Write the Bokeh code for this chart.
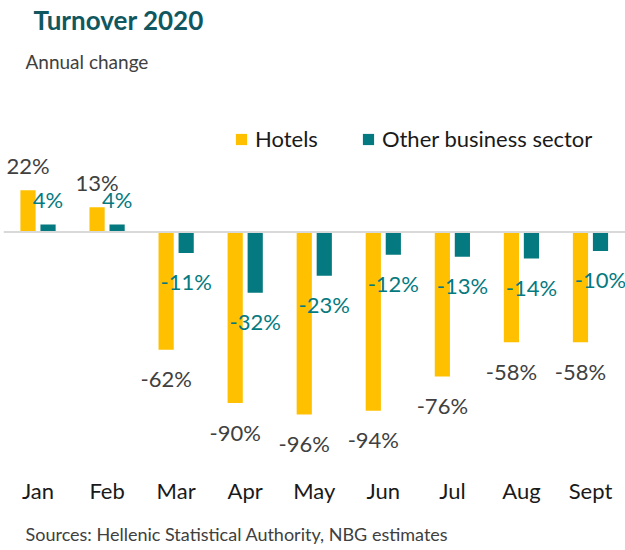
from bokeh.plotting import figure
from bokeh.models import (ColumnDataSource, Range1d, FixedTicker, Span, Label,
                          Legend, LegendItem, Title)
from bokeh.core.properties import value
from bokeh.embed import file_html
from bokeh.resources import INLINE

months = ["Jan", "Feb", "Mar", "Apr", "May", "Jun", "Jul", "Aug", "Sept"]
hotels = [22, 13, -62, -90, -96, -94, -76, -58, -58]
other = [4, 4, -11, -32, -23, -12, -13, -14, -10]

FONT = "Lato"
GOLD = "#FFC000"
TEAL = "#047A80"
DARK = "#404040"

idx = list(range(len(months)))
off = 0.145
bw = 0.22

src_h = ColumnDataSource(dict(
    x=[i - off for i in idx], v=hotels,
    lab=[f"{v}%" for v in hotels],
    yo=[-25 if v >= 0 else 29 for v in hotels]))
src_o = ColumnDataSource(dict(
    x=[i + off for i in idx], v=other,
    lab=[f"{v}%" for v in other],
    yo=[-25 if v >= 0 else 29 for v in other]))

p = figure(frame_width=622, frame_height=470, output_backend="svg",
           toolbar_location=None, x_range=Range1d(-0.5, 8.507),
           y_range=Range1d(-125.5, 121.8), min_border=0, min_border_left=3,
           background_fill_color="white", border_fill_color="white",
           outline_line_color=None)
p.grid.visible = False
p.yaxis.visible = False

ax = p.xaxis[0]
ax.ticker = FixedTicker(ticks=idx)
ax.major_label_overrides = {i: m for i, m in zip(idx, months)}
ax.axis_line_color = None
ax.major_tick_line_color = None
ax.minor_tick_line_color = None
ax.major_tick_in = 0
ax.major_tick_out = 0
ax.major_label_standoff = 6
ax.major_label_text_font = FONT
ax.major_label_text_font_size = "22px"
ax.major_label_text_color = "#1a1a1a"

p.add_layout(Span(location=0, dimension="width", line_color="#D9D9D9",
                  line_width=2))

rh = p.vbar(x="x", top="v", width=bw, source=src_h, fill_color=GOLD,
            line_color=None)
ro = p.vbar(x="x", top="v", width=bw, source=src_o, fill_color=TEAL,
            line_color=None)

p.text(x="x", y="v", text="lab", y_offset="yo", source=src_h,
       text_font=value(FONT), text_font_size="22px", text_color=DARK,
       text_align="center", text_baseline="middle")
p.text(x="x", y="v", text="lab", y_offset="yo", source=src_o,
       text_font=value(FONT), text_font_size="22px", text_color=TEAL,
       text_align="center", text_baseline="middle")

legend = Legend(items=[LegendItem(label="Hotels", renderers=[rh]),
                       LegendItem(label="Other business sector", renderers=[ro])],
                orientation="horizontal", location=(231, 318),
                glyph_width=14, glyph_height=14, label_standoff=7,
                spacing=43, padding=0, margin=0,
                border_line_color=None, background_fill_alpha=0,
                label_text_font=FONT, label_text_font_size="22px",
                label_text_color="#1a1a1a")
p.add_layout(legend)

p.add_layout(Label(x=30, y=451, x_units="screen", y_units="screen",
                   text="Turnover 2020", text_font=FONT,
                   text_font_size="26px", text_font_style="bold",
                   text_color="#10575F", text_baseline="middle"))
p.add_layout(Label(x=22, y=409, x_units="screen", y_units="screen",
                   text="Annual change", text_font=FONT,
                   text_font_size="19px", text_color=DARK,
                   text_baseline="middle"))

p.add_layout(Title(text="Sources: Hellenic Statistical Authority, NBG estimates",
                   align="left", offset=22, text_font=FONT,
                   text_font_size="18px", text_font_style="normal",
                   text_color=DARK, standoff=29), "below")

open("out.html", "w").write(file_html(p, INLINE))
